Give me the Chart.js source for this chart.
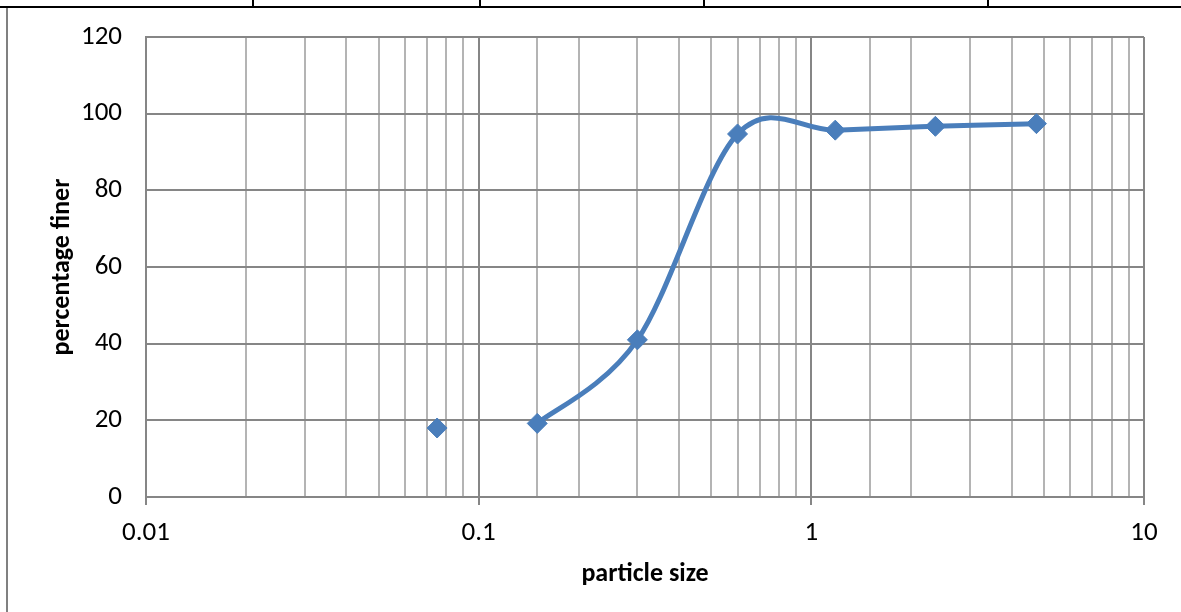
<!DOCTYPE html>
<html>
<head>
<meta charset="utf-8">
<script src="https://cdn.jsdelivr.net/npm/chart.js@4/dist/chart.umd.min.js"></script>
<style>
  html, body { margin: 0; padding: 0; background: #fff; }
  #wrap { position: relative; width: 1181px; height: 612px; overflow: hidden; }
  /* table rules around the chart */
  .rule-top { position: absolute; left: 0; top: 6px; width: 1181px; height: 2px; background: #000; }
  .rule-tick { position: absolute; top: 0; width: 2px; height: 7px; background: #000; }
  .rule-left { position: absolute; left: 6px; top: 8px; width: 2px; height: 604px; background: #808080; }
  canvas { position: absolute; left: 0; top: 0; }
</style>
</head>
<body>
<div id="wrap">
  <div class="rule-top"></div>
  <div class="rule-tick" style="left:252px"></div>
  <div class="rule-tick" style="left:479px"></div>
  <div class="rule-tick" style="left:703px"></div>
  <div class="rule-tick" style="left:987px"></div>
  <div class="rule-left"></div>
  <canvas id="sieveChart" width="1181" height="612"></canvas>
</div>
<script>
// Sieve analysis: particle size (mm) vs percentage finer
const sizes = [0.075, 0.15, 0.3, 0.6, 1.18, 2.36, 4.75];
const finer = [18, 19.2, 41, 94.7, 95.7, 96.7, 97.4];

const BLUE = '#4a7ebb';
const GRID_MAJOR = '#868686';
const GRID_MINOR = '#b4b4b4';
const FONT = 'Carlito, Calibri, Lato, sans-serif';

const isDecade = v => Math.abs(Math.log10(v) - Math.round(Math.log10(v))) < 1e-6;

// first sieve sits on its own, the curve runs from the second one
const loose = [{ x: sizes[0], y: finer[0] }];
const curve = sizes.slice(1).map((s, i) => ({ x: s, y: finer[i + 1] }));

// plain Catmull-Rom control points (1/6 of neighbour span) instead of
// Chart.js' distance-weighted ones, gives the softer spreadsheet-style curve
const catmullRom = {
  id: 'catmullRom',
  beforeDatasetDraw(chart, args) {
    const line = args.meta.dataset;
    if (!line || !line.points || line.points.length < 2) return;
    line.updateControlPoints(chart.chartArea, args.meta.indexAxis);
    const pts = line.points;
    pts.forEach((p, i) => {
      const prev = pts[Math.max(i - 1, 0)];
      const next = pts[Math.min(i + 1, pts.length - 1)];
      const dx = (next.x - prev.x) / 6;
      const dy = (next.y - prev.y) / 6;
      p.cp1x = p.x - dx; p.cp1y = p.y - dy;
      p.cp2x = p.x + dx; p.cp2y = p.y + dy;
    });
  },
};

new Chart(document.getElementById('sieveChart'), {
  type: 'scatter',
  plugins: [catmullRom],
  data: {
    datasets: [
      {
        data: curve,
        showLine: true,
        borderColor: BLUE,
        borderWidth: 5,
        tension: 0.4,
        pointStyle: 'rectRot',
        pointRadius: 10,
        pointBackgroundColor: BLUE,
        pointBorderColor: BLUE,
        pointBorderWidth: 1,
      },
      {
        data: loose,
        showLine: false,
        pointStyle: 'rectRot',
        pointRadius: 10,
        pointBackgroundColor: BLUE,
        pointBorderColor: BLUE,
        pointBorderWidth: 1,
      },
    ],
  },
  options: {
    responsive: false,
    animation: false,
    layout: { padding: { top: 37, right: 37, left: 0, bottom: 0 } },
    plugins: { legend: { display: false }, tooltip: { enabled: false } },
    scales: {
      x: {
        type: 'logarithmic',
        min: 0.01,
        max: 10,
        afterFit: s => { s.height = 115; },
        grid: {
          color: ctx => (ctx.tick && isDecade(ctx.tick.value) ? GRID_MAJOR : GRID_MINOR),
          lineWidth: 2,
          drawTicks: true,
          tickLength: 8,
          tickColor: ctx => (ctx.tick && isDecade(ctx.tick.value) ? GRID_MAJOR : 'rgba(0,0,0,0)'),
        },
        border: { color: GRID_MAJOR, width: 2 },
        ticks: {
          autoSkip: false,
          maxRotation: 0,
          padding: 12,
          color: '#000',
          font: { family: FONT, size: 27 },
          callback: v => (isDecade(v) ? String(Number(v.toPrecision(3))) : ''),
        },
        title: {
          display: true,
          text: 'particle size',
          color: '#000',
          font: { family: FONT, size: 26, weight: 'bold' },
          padding: { top: 0, bottom: 22 },
        },
      },
      y: {
        min: 0,
        max: 120,
        afterFit: s => {
          s.width = 146;
          // label overflow is already covered by the layout padding
          s.paddingTop = 0;
          s.paddingBottom = 0;
        },
        grid: { color: GRID_MAJOR, lineWidth: 2, drawTicks: false },
        border: { color: GRID_MAJOR, width: 2 },
        ticks: {
          stepSize: 20,
          padding: 24,
          color: '#000',
          font: { family: FONT, size: 27 },
        },
        title: {
          display: true,
          text: 'percentage finer',
          color: '#000',
          font: { family: FONT, size: 26, weight: 'bold' },
          padding: { top: 47, bottom: 0 },
        },
      },
    },
  },
});
</script>
</body>
</html>
